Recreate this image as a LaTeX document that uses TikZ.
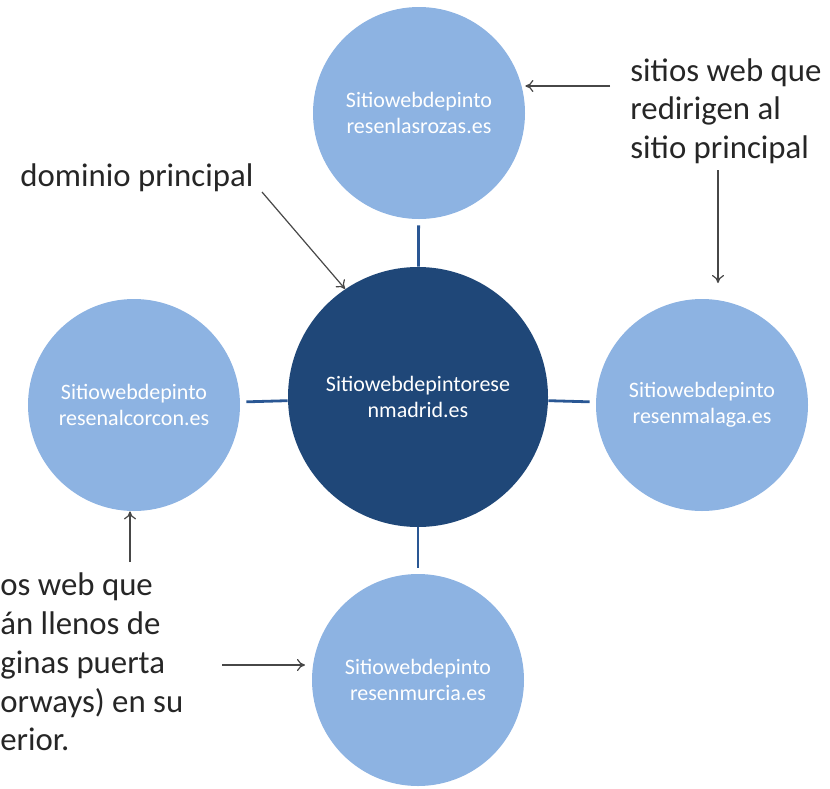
\documentclass[tikz,border=0pt]{standalone}
\usepackage{fontspec}
\setmainfont{Carlito}
\usetikzlibrary{arrows.meta}

\definecolor{sitefill}{HTML}{8DB3E2}
\definecolor{hubfill}{HTML}{1F4778}
\definecolor{linkcol}{HTML}{2A5794}
\definecolor{notecol}{HTML}{262626}

\tikzset{
	site/.style={circle,fill=sitefill,minimum size=106pt,inner sep=0pt,text=white,align=center,font=\fontsize{11}{12.8}\selectfont},
	hub/.style={circle,fill=hubfill,minimum size=130pt,inner sep=0pt,text=white,align=center,font=\fontsize{11}{12.8}\selectfont},
	link/.style={draw=linkcol,line width=1.4pt,shorten <=3pt},
	note/.style={inner sep=0pt,align=left,text=notecol,font=\fontsize{16.4}{19.4}\selectfont},
	pointer/.style={draw=notecol!85,line width=0.6pt,-{To[length=4pt,width=6pt]}}
}

\begin{document}
\begin{tikzpicture}[x=0.5pt,y=-0.5pt]
	\useasboundingbox (0,0) rectangle (830,788);
	
	% centre
	\node[hub] (main) at (418,397) {Sitiowebdepintorese\\nmadrid.es};
	
	% satellites
	\foreach \n/\px/\py/\t in {top/419/113/{Sitiowebdepinto\\resenlasrozas.es},
		left/134/405/{Sitiowebdepinto\\resenalcorcon.es},
		right/702/405/{Sitiowebdepinto\\resenmalaga.es},
		bottom/418/680/{Sitiowebdepinto\\resenmurcia.es}%
	}
	{
		\node[site] (\n) at (\px,\py) {\t};
		\draw[link] (\n) -- (main);
	};
	
	% notes
	\node[note,anchor=west] (dom) at (20,178) {dominio principal};
	\node[note,anchor=north west] (redir) at (630,58) {sitios web que\\redirigen al\\sitio principal};
	\node[note,anchor=west] (door) at (0,662) {os web que\\án llenos de\\ginas puerta\\orways) en su\\erior.};
	
	\coordinate (domstart) at (262,192);
	\coordinate (redirstart) at (610,86);
	\coordinate (redirdown) at (718,170);
	\coordinate (redirend) at (718,283);
	\coordinate (doorup) at (130,562);
	\coordinate (doorright) at (222,665);
	\coordinate (doorend) at (305,665);
	
	\draw[pointer] (domstart) -- (main.124);
	\draw[pointer] (redirstart) -- (redirstart -| top.east);
	\draw[pointer] (redirdown) -- (redirend);
	\draw[pointer] (doorup) -- (doorup |- left.south);
	\draw[pointer] (doorright) -- (doorend);
	
\end{tikzpicture}
\end{document}
